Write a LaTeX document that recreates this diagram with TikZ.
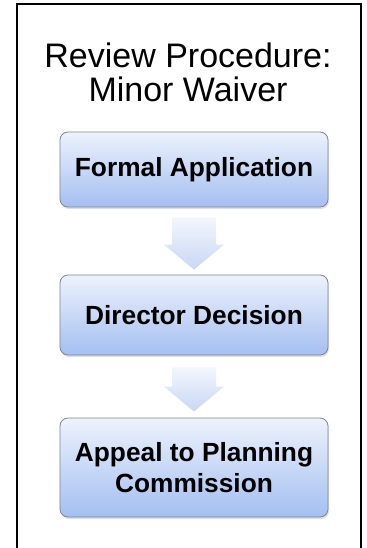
\documentclass[tikz,border=0pt]{standalone}
\usepackage{fontspec}
\setmainfont{Liberation Sans}
\usepackage{xcolor}
\usepackage{tikz}
\usetikzlibrary{positioning,calc,shadows}

\definecolor{boxtop}{HTML}{EDF2FC}
\definecolor{boxbottom}{HTML}{A4BFF1}
\definecolor{boxline}{HTML}{7E8797}
\definecolor{arrowtop}{HTML}{F3F6FD}
\definecolor{arrowbottom}{HTML}{C8D7F4}

\tikzset{
    stepbox/.style={rounded corners=8bp, draw=boxline, line width=0.8bp,
        top color=boxtop, bottom color=boxbottom,
        drop shadow={opacity=0.25, shadow xshift=1bp, shadow yshift=-2bp},
        minimum width=268bp, align=center, inner sep=0pt,
        font=\fontsize{26.3bp}{30.5bp}\selectfont\bfseries},
    flowarrow/.style={top color=arrowtop, bottom color=arrowbottom, draw=none}
}

% block arrow from the bottom of one step to the top of the next
\newcommand{\stepArrow}[4]{%
    \shade[flowarrow] ($(#1.south)+(-22,#3)$) -- ($(#1.south)+(22,#3)$)
        -- ($(#2.north)+(22,-#4-25)$) -- ($(#2.north)+(30,-#4-25)$)
        -- ($(#2.north)+(0,-#4)$)
        -- ($(#2.north)+(-30,-#4-25)$) -- ($(#2.north)+(-22,-#4-25)$) -- cycle;}

\begin{document}
\begin{tikzpicture}[x=1bp, y=-1bp]
    \useasboundingbox (0,0) rectangle (366,548);

    % Outer frame (bottom edge runs off the page)
    \draw[line width=1.5bp] (17,560) -- (17,4) -- (361,4) -- (361,560);

    % Title
    \node[align=center, font=\fontsize{34bp}{34bp}\selectfont] (title) at (188,72)
        {Review Procedure:\\Minor Waiver};

    % Steps
    \node[stepbox, minimum height=75bp] (apply) at (194,169.5) {Formal Application};
    \node[stepbox, minimum height=80bp] (decide) at (194,315) {Director Decision};
    \node[stepbox, minimum height=99bp] (appeal) at (194,467.5)
        {Appeal to Planning\\Commission};

    % Arrows between steps
    \stepArrow{apply}{decide}{10}{5}
    \stepArrow{decide}{appeal}{12}{6}
\end{tikzpicture}
\end{document}
